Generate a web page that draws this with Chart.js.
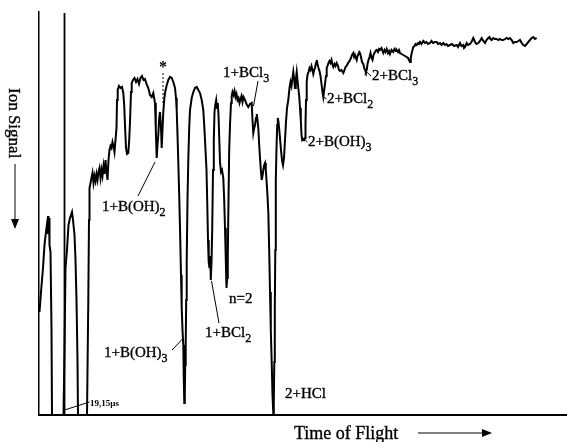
<!DOCTYPE html>
<html>
<head>
<meta charset="utf-8">
<script src="https://cdn.jsdelivr.net/npm/chart.js@4.4.1/dist/chart.umd.min.js"></script>
<style>
  html, body { margin: 0; padding: 0; background: #fff; }
  #wrap { width: 567px; height: 442px; }
</style>
</head>
<body>
<div id="wrap"><canvas id="tof" width="567" height="442"></canvas></div>
<script>
// time of flight (arbitrary channels) and ion signal depth (downwards = more signal)
const tof = [
  0.5, 2, 4, 5.5, 6.5, 7.5, 8, 8.5, 9, 9.5, 10, 10.5, 11.5, 12.5, 13, 23,
  24.5, 25.5, 26.5, 28, 29.5, 31, 32, 33, 34, 35.5, 36.5, 37.5, 38.5, 39, 48,
  48.5, 49.3, 50, 50.5, 51.5, 52.5, 53.5, 54.5, 55.5, 56.5, 57.5, 58.5, 59.5, 60.5, 61.5, 62.5,
  63.5, 64.5, 65.5, 66.5, 67.5, 68.5, 69.5, 70.5, 71.5, 72.5, 73.5, 74.5, 75.5, 76.5, 77.5,
  78, 78.7, 80, 81.5, 83, 84.3, 85.2, 86, 87, 88, 89.3, 90.2, 91, 92, 92.7, 94, 95.5,
  97, 98.5, 100, 101.5, 103, 104.5, 106, 107.5, 109.3, 111, 112.7, 114.3, 116, 116.8, 117.7,
  118.5, 119.3, 120.2, 121, 122, 122.7, 123.5, 124.3, 125.2, 126, 127.5, 129.3, 131, 132.7,
  134.3, 136, 137, 137.7, 138.5, 139.3, 140.2, 141, 142, 142.7, 143.5, 144.3, 144.8, 145.3,
  145.8, 146.2, 146.7, 147.2, 147.7, 148.5, 149.3, 150.2, 151, 152.7, 154.3, 156, 157.7,
  159.3, 161, 162.7, 164.3, 165.5, 166.5, 167.5, 168.3, 169, 169.7, 170.5, 171.2, 171.8,
  172.5, 173.2, 174, 174.8, 175.5, 176.3, 177.2, 178, 178.8, 179.5, 180.3, 181, 182, 183,
  184.3, 185.2, 186, 186.8, 187.5, 188.2, 188.8, 189.5, 190.2, 191, 192, 192.7, 193.5,
  194.5, 195.5, 196.5, 197.5, 198.5, 199.5, 200.5, 201.5, 202.5, 203.5, 204.5, 206, 207.5,
  209.3, 211, 212.7, 213.5, 214.3, 215.2, 216, 217, 217.8, 218.5, 219.3, 220.2, 221, 222,
  222.7, 223.5, 224.3, 225.2, 226, 226.8, 227.7, 228.5, 229.3, 230.2, 231, 231.8, 232.7,
  233.5, 234.3, 234.8, 235.3, 235.8, 236.3, 236.8, 237.5, 238.2, 238.8, 239.5, 240.3, 241,
  242, 243, 244, 245, 246, 247, 248, 249.3, 250.5, 251.5, 252.5, 253.5, 254.3, 255.2, 256,
  256.8, 257.7, 258.5, 259.3, 260.2, 261, 261.8, 262.5, 263.2, 264, 265, 266, 266.5, 267,
  267.7, 268.5, 269.5, 270.5, 271.5, 272.5, 273.5, 274.3, 275.2, 276, 277, 277.7, 278.5,
  279.5, 280.5, 281.5, 282.5, 283.5, 284.3, 285.2, 286, 287, 287.7, 288.5, 289.5, 290.5,
  291.5, 292.5, 293.5, 294.3, 295.5, 296.5, 297.7, 299, 300, 301, 302.5, 304.3, 305.5,
  306.5, 307.7, 309, 310, 311, 312, 313, 314.3, 315.2, 316, 317.7, 318.5, 319.5, 320.3,
  321, 322, 323, 324.3, 325.2, 326, 326.8, 327.7, 328.5, 329.5, 330.5, 331.5, 332.5, 333.5,
  334.5, 335.5, 336.5, 337.7, 339, 340, 341, 342.5, 344.3, 345.5, 346.5, 347.7, 349, 350,
  351, 352.5, 354.3, 355.5, 357, 357.7, 359, 360, 361, 362.5, 364.3, 366, 367.7, 369, 370,
  371, 371.8, 372.7, 373.5, 374.3, 375.5, 376.5, 377.7, 379, 380, 381, 382.5, 384.3, 386,
  387.5, 389, 391, 392.5, 394, 396, 397.7, 399, 401, 402.5, 404.3, 406, 407.5, 409, 411,
  413, 415, 417.7, 419, 421, 422.5, 424.3, 425, 426, 427.7, 429, 431, 432.5, 434.3, 435.2,
  436, 437.5, 439.3, 441, 442.7, 444.3, 446, 447.5, 449.3, 450.5, 451.5, 452.7, 454.3, 456,
  457.7, 459.3, 461, 462.7, 464.3, 466, 467.7, 469.3, 471, 472.7, 474.3, 476, 477.7, 479.3,
  481, 482.7, 484.3, 486, 487.7, 489.3, 491, 492.7, 494.3, 496, 497.7
];
const signal = [
  300, 280, 256, 233, 224, 216, 221, 210, 204, 213, 206, 233, 240, 318, 403, 403,
  403, 338, 256, 238, 213, 206, 203, 200, 208, 223, 248, 288, 348, 403, 403,
  403, 288, 208, 176, 171, 166, 161, 171, 164, 169, 162, 168, 160, 156, 166, 158,
  164, 154, 162, 148, 160, 168, 148, 138, 134, 136, 130, 134, 140, 128, 116,
  88, 78, 74, 76, 75, 81, 93, 113, 136, 142, 141, 128, 110, 80, 71, 68, 66,
  70, 67, 72, 66, 64, 68, 67, 72, 76, 83, 85, 81, 91, 118, 146,
  133, 123, 106, 100, 116, 136, 118, 100, 88, 81, 74, 68, 65, 66,
  70, 76, 86, 98, 123, 150, 183, 216, 263, 296, 318, 333, 368, 391,
  383, 353, 333, 288, 250, 188, 148, 116, 98, 86, 80, 76, 75,
  78, 81, 88, 98, 118, 138, 158, 193, 228, 250, 256, 244, 268,
  250, 218, 158, 128, 100, 93, 88, 96, 91, 103, 128, 150, 160, 158,
  166, 188, 216, 248, 276, 266, 243, 188, 138, 113, 91, 84, 80,
  83, 79, 85, 82, 88, 86, 91, 87, 84, 90, 85, 88, 92,
  95, 92, 91, 108, 121, 116, 113, 106, 102, 108, 116, 133, 146, 160,
  168, 164, 158, 153, 151, 158, 171, 184, 200, 238, 280, 318, 350,
  383, 401, 388, 350, 298, 238, 168, 136, 113, 106, 110, 118, 126,
  138, 148, 153, 146, 128, 110, 96, 88, 76, 70, 74, 66, 60, 68, 76,
  68, 60, 68, 76, 84, 96, 108, 123, 128, 127, 128, 126, 113, 88,
  70, 63, 60, 56, 58, 54, 58, 62, 58, 56, 51, 48, 52,
  56, 59, 64, 72, 80, 85, 78, 72, 64, 56, 54, 51, 49,
  51, 48, 53, 55, 52, 54, 51, 54, 58, 59, 58, 61, 58,
  55, 54, 51, 50, 48, 46, 43, 41, 45, 43, 48, 44, 42, 40,
  41, 45, 50, 52, 56, 58, 60, 58, 52, 48, 45, 41, 46, 48,
  43, 41, 39, 38, 40, 37, 38, 36, 41, 38, 40, 37, 41, 39,
  42, 38, 40, 37, 39, 38, 40, 38, 41, 42, 43, 44, 45, 46, 48,
  50, 46, 41, 38, 35, 34, 32, 33, 31, 32, 30, 32, 29, 31,
  30, 32, 31, 29, 31, 30, 30, 32, 31, 33, 31, 33, 32, 34, 33,
  32, 34, 33, 35, 31, 34, 33, 36, 35, 31, 33, 32, 30, 26, 28,
  30, 32, 31, 29, 26, 29, 31, 28, 26, 25, 27, 28, 26, 27,
  27, 28, 27, 28, 28, 27, 26, 27, 26, 28, 31, 30, 30, 29,
  28, 31, 33, 34, 32, 30, 28, 26, 25, 27, 26
];
// reference marker 19,15 µs
const markerTof = [25.5, 25.5];
const markerSignal = [1, 403];

// peak assignments: label, subscript, anchor (tof, signal), optional leader
const peakLabels = [
  { text: "1+B(OH)", sub: "2", at: [63, 199], leader: [[116, 150], [99, 184]] },
  { text: "1+B(OH)", sub: "3", at: [65, 345], leader: [[133, 338], [144.5, 326]] },
  { text: "1+BCl", sub: "3", at: [184, 65], leader: [[219, 69], [214.5, 94]] },
  { text: "1+BCl", sub: "2", at: [166, 325], leader: [[172.5, 269], [180, 311]] },
  { text: "n=2", sub: "", at: [190, 291] },
  { text: "2+HCl", sub: "", at: [246, 386] },
  { text: "2+B(OH)", sub: "3", at: [269, 134], leader: [[264, 126], [268.5, 130]] },
  { text: "2+BCl", sub: "2", at: [288, 91], leader: [[284.5, 85], [287.5, 87]] },
  { text: "2+BCl", sub: "3", at: [333, 68], leader: [[326.5, 59], [332, 64]] }
];

const SERIF = '"Liberation Serif", "Times New Roman", serif';

function line(ctx, x1, y1, x2, y2, width) {
  ctx.beginPath();
  ctx.lineWidth = width;
  ctx.moveTo(x1, y1);
  ctx.lineTo(x2, y2);
  ctx.stroke();
}

// scanned print looks heavy, so fill and lightly stroke the glyphs
function heavyText(ctx, text, x, y) {
  ctx.lineWidth = 0.35;
  ctx.fillText(text, x, y);
  ctx.strokeText(text, x, y);
}

function arrowHead(ctx, x, y, dir) {
  ctx.beginPath();
  if (dir === "down") {
    ctx.moveTo(x, y);
    ctx.lineTo(x - 4, y - 10);
    ctx.lineTo(x + 4, y - 10);
  } else {
    ctx.moveTo(x, y);
    ctx.lineTo(x - 10, y - 4);
    ctx.lineTo(x - 10, y + 4);
  }
  ctx.closePath();
  ctx.fill();
}

const annotations = {
  id: "annotations",
  afterDatasetsDraw(chart) {
    const { ctx, chartArea, scales: { x, y } } = chart;
    const px = v => x.getPixelForValue(v);
    const py = v => y.getPixelForValue(v);
    ctx.save();
    ctx.fillStyle = "#000";
    ctx.strokeStyle = "#000";
    ctx.textBaseline = "alphabetic";

    peakLabels.forEach(label => {
      if (label.leader) {
        const [a, b] = label.leader;
        line(ctx, px(a[0]), py(a[1]), px(b[0]), py(b[1]), 1);
      }
      ctx.font = `15px ${SERIF}`;
      const left = px(label.at[0]);
      const base = py(label.at[1]);
      heavyText(ctx, label.text, left, base);
      if (label.sub) {
        const w = ctx.measureText(label.text).width;
        ctx.font = `12px ${SERIF}`;
        heavyText(ctx, label.sub, left + w, base + 5);
      }
    });

    // asterisk with dashed pointer
    ctx.font = `bold 16px ${SERIF}`;
    ctx.textAlign = "center";
    ctx.fillText("*", px(124), py(60));
    ctx.setLineDash([2, 2]);
    line(ctx, px(124), py(61), px(124), py(91), 1);
    ctx.setLineDash([]);

    // 19,15 µs marker label
    ctx.textAlign = "left";
    line(ctx, px(25.5), py(398), px(50.5), py(390), 1);
    ctx.font = `bold 9px ${SERIF}`;
    ctx.fillText("19,15\u00b5s", px(51), py(394));

    // axis captions with arrows
    ctx.font = `17px ${SERIF}`;
    ctx.save();
    ctx.translate(chartArea.left - 30, 88);
    ctx.rotate(Math.PI / 2);
    heavyText(ctx, "Ion Signal", 0, 0);
    ctx.restore();
    line(ctx, 15, 164, 15, 222, 1);
    arrowHead(ctx, 15, 229, "down");

    ctx.font = `18px ${SERIF}`;
    heavyText(ctx, "Time of Flight", 294, 439);
    line(ctx, 418, 433, 484, 433, 1);
    arrowHead(ctx, 492, 433, "right");
    ctx.restore();
  }
};

new Chart(document.getElementById("tof"), {
  type: "line",
  data: {
    datasets: [
      {
        data: tof.map((t, i) => ({ x: t, y: signal[i] })),
        borderColor: "#000",
        borderWidth: 2,
        pointRadius: 0,
        tension: 0
      },
      {
        data: markerTof.map((t, i) => ({ x: t, y: markerSignal[i] })),
        borderColor: "#000",
        borderWidth: 1.8,
        pointRadius: 0
      }
    ]
  },
  options: {
    responsive: false,
    animation: false,
    events: [],
    layout: { padding: { left: 39, top: 12, right: 0, bottom: 27 } },
    plugins: { legend: { display: false }, tooltip: { enabled: false } },
    scales: {
      x: {
        type: "linear",
        min: 0,
        max: 528,
        grid: { display: false, drawTicks: false },
        border: { display: true, color: "#000", width: 2 },
        ticks: { display: false }
      },
      y: {
        type: "linear",
        reverse: true,
        min: 0,
        max: 403,
        grid: { display: false, drawTicks: false },
        border: { display: true, color: "#000", width: 1.5 },
        ticks: { display: false }
      }
    }
  },
  plugins: [annotations]
});
</script>
</body>
</html>
